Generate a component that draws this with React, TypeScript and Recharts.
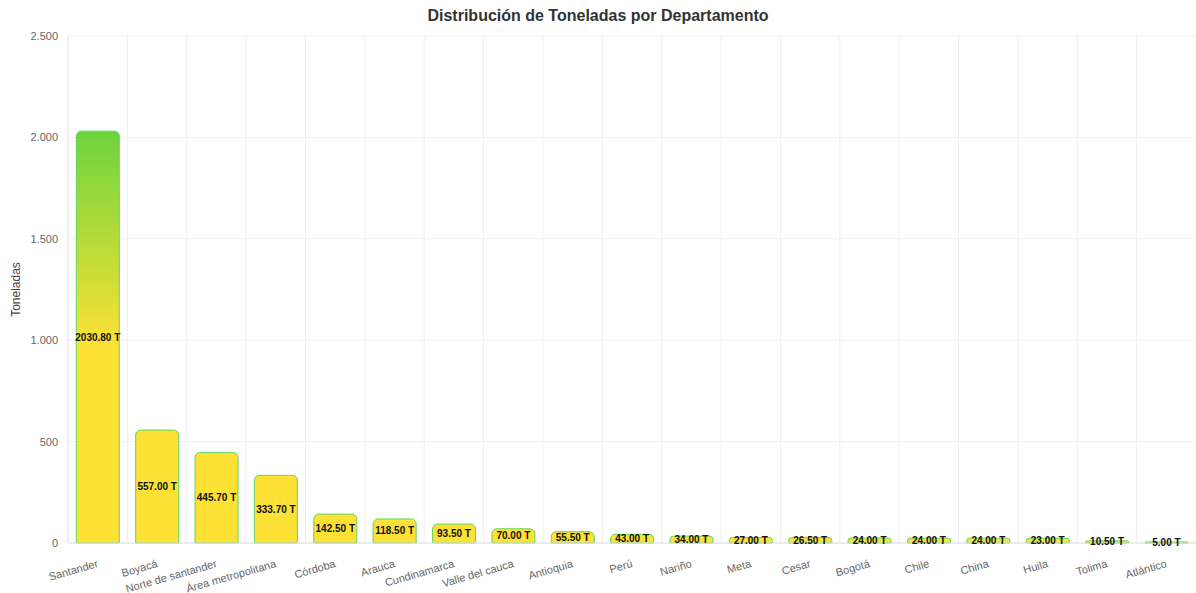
import React from "react";
import {
  BarChart,
  Bar,
  XAxis,
  YAxis,
  CartesianGrid,
  LabelList,
} from "recharts";

const departamentos = [
  "Santander",
  "Boyacá",
  "Norte de santander",
  "Área metropolitana",
  "Córdoba",
  "Arauca",
  "Cundinamarca",
  "Valle del cauca",
  "Antioquia",
  "Perú",
  "Nariño",
  "Meta",
  "Cesar",
  "Bogotá",
  "Chile",
  "China",
  "Huila",
  "Tolima",
  "Atlántico",
];

const toneladas = [
  2030.8, 557.0, 445.7, 333.7, 142.5, 118.5, 93.5, 70.0, 55.5, 43.0, 34.0,
  27.0, 26.5, 24.0, 24.0, 24.0, 23.0, 10.5, 5.0,
];

const yTicks = [0, 500, 1000, 1500, 2000, 2500];

const data = departamentos.map((nombre, i) => ({
  nombre,
  toneladas: toneladas[i],
}));

const FONT = "Arial, 'Liberation Sans', Helvetica, sans-serif";
const WIDTH = 1196;
const HEIGHT = 593;

// separador de miles con punto (2.500)
const formatoMiles = (v: number) =>
  String(v).replace(/\B(?=(\d{3})+(?!\d))/g, ".");

const TickRotado = (props: any) => {
  const { x, y, payload } = props;
  const ty = y + 12;
  return (
    <text
      x={x}
      y={ty}
      transform={`rotate(-16, ${x}, ${ty})`}
      textAnchor="end"
      dominantBaseline="central"
      fontSize={11}
      fill="#666"
      fontFamily={FONT}
    >
      {payload.value}
    </text>
  );
};

// etiqueta centrada en la barra, sin cortes de línea
const EtiquetaValor = (props: any) => {
  const { x, y, width, height, value } = props;
  return (
    <text
      x={x + width / 2}
      y={y + height / 2}
      textAnchor="middle"
      dominantBaseline="central"
      fontSize={10}
      fontWeight="bold"
      fill="#111"
      fontFamily={FONT}
    >
      {`${Number(value).toFixed(2)} T`}
    </text>
  );
};

export default function App() {
  return (
    <div style={{ width: WIDTH, height: HEIGHT, background: "#fff" }}>
      <style>{`body { margin: 0; }`}</style>
      <div style={{ position: "relative" }}>
        <div
          style={{
            position: "absolute",
            top: 7,
            left: 0,
            width: WIDTH,
            textAlign: "center",
            fontFamily: FONT,
            fontWeight: "bold",
            fontSize: 16,
            color: "#333",
          }}
        >
          Distribución de Toneladas por Departamento
        </div>
        <BarChart
          width={WIDTH}
          height={HEIGHT}
          data={data}
          margin={{ top: 36, right: 0, bottom: 0, left: 0 }}
          barCategoryGap="14%"
        >
          <defs>
            <linearGradient
              id="gradBarra"
              gradientUnits="userSpaceOnUse"
              x1="0"
              y1="130"
              x2="0"
              y2="345"
            >
              <stop offset="0%" stopColor="#6cd43e" />
              <stop offset="100%" stopColor="#fde135" />
            </linearGradient>
          </defs>
          <CartesianGrid
            stroke="#f0f0f0"
            verticalCoordinatesGenerator={({ offset }: any) =>
              departamentos.map(
                (_, i) =>
                  offset.left + ((i + 1) * offset.width) / departamentos.length
              )
            }
          />
          <XAxis
            dataKey="nombre"
            interval={0}
            tick={<TickRotado />}
            tickLine={false}
            axisLine={{ stroke: "#e0e0e0" }}
            height={50}
          />
          <YAxis
            width={68}
            domain={[0, 2500]}
            ticks={yTicks}
            tickFormatter={formatoMiles}
            tickLine={false}
            tickMargin={4}
            axisLine={{ stroke: "#e0e0e0" }}
            tick={{ fontSize: 11, fill: "#666", fontFamily: FONT }}
            label={{
              value: "Toneladas",
              angle: -90,
              position: "insideLeft",
              offset: 16,
              style: {
                fontSize: 12,
                fill: "#444",
                fontFamily: FONT,
                textAnchor: "middle",
              },
            }}
          />
          <Bar
            dataKey="toneladas"
            fill="url(#gradBarra)"
            stroke="#5fd65f"
            strokeWidth={1}
            radius={[5, 5, 0, 0]}
            isAnimationActive={false}
          >
            <LabelList dataKey="toneladas" content={<EtiquetaValor />} />
          </Bar>
        </BarChart>
      </div>
    </div>
  );
}
